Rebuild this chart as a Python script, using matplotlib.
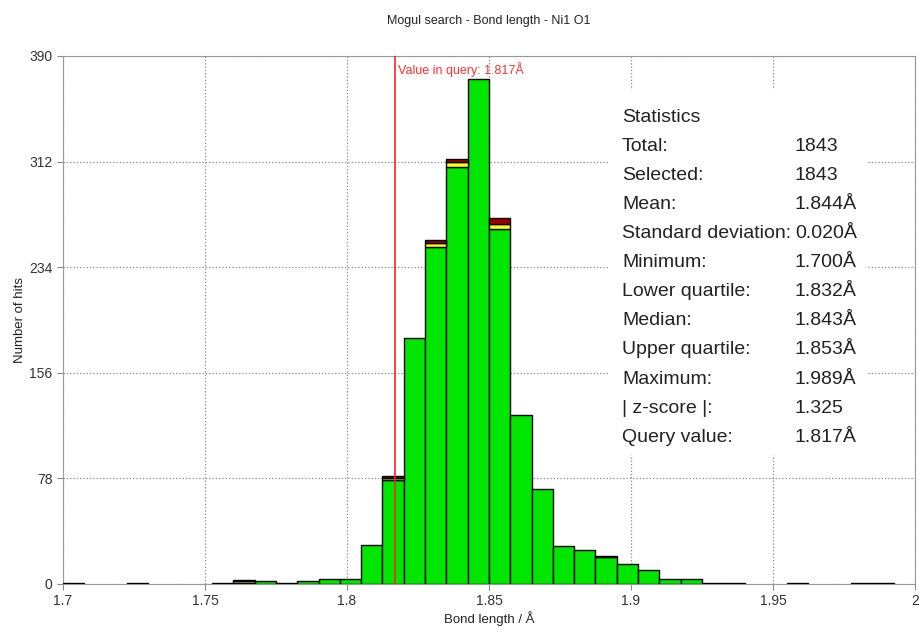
import matplotlib
matplotlib.use("Agg")
import matplotlib.pyplot as plt
import numpy as np
from matplotlib.patches import Rectangle

plt.rcParams['font.family'] = ['Liberation Sans', 'DejaVu Sans']

# Histogram bins (bond length, Å)
bin_start = 1.7
bin_width = 0.0075
n_bins = 40
# counts per bin by category (green = main, yellow, dark red caps)
green = [1, 0, 0, 1, 0, 0, 0, 1, 1, 2, 0, 2, 4, 4, 29, 77, 182, 249, 308, 373,
         262, 125, 70, 28, 25, 20, 15, 10, 4, 4, 1, 1, 0, 0, 1, 0, 0, 1, 1, 0]
yellow = [0]*40
darkred = [0]*40
yellow[8] = 1; darkred[8] = 1
darkred[10] = 1
yellow[15] = 1; darkred[15] = 2
yellow[17] = 3; darkred[17] = 2
yellow[18] = 4; darkred[18] = 2
yellow[20] = 4; darkred[20] = 4
darkred[25] = 1

query_value = 1.817
title = "Mogul search - Bond length - Ni1 O1"
xlabel = "Bond length / Å"
ylabel = "Number of hits"
yticks = [0, 78, 156, 234, 312, 390]
xticks = [1.7, 1.75, 1.8, 1.85, 1.9, 1.95, 2.0]
xticklabels = ["1.7", "1.75", "1.8", "1.85", "1.9", "1.95", "2"]
stats_labels = ["Total:", "Selected:", "Mean:", "Standard deviation:", "Minimum:",
                "Lower quartile:", "Median:", "Upper quartile:", "Maximum:",
                "| z-score |:", "Query value:"]
stats_values = ["1843", "1843", "1.844Å", "0.020Å", "1.700Å", "1.832Å", "1.843Å",
                "1.853Å", "1.989Å", "1.325", "1.817Å"]

fig = plt.figure(figsize=(9.2, 6.31), dpi=100)
ax = fig.add_axes([0.0685, 0.0745, 0.926, 0.8368])

lefts = bin_start + bin_width*np.arange(n_bins)
g = np.array(green); yl = np.array(yellow); dr = np.array(darkred)
kw = dict(width=bin_width, align='edge', edgecolor='black', linewidth=1.0, zorder=3)
mask = g > 0
ax.bar(lefts[mask], g[mask], color='#00e600', **kw)
m2 = yl > 0
ax.bar(lefts[m2], yl[m2], bottom=g[m2], color='#ffff00', **kw)
m3 = dr > 0
ax.bar(lefts[m3], dr[m3], bottom=(g+yl)[m3], color='#a00000', **kw)

ax.set_xlim(1.7, 2.0)
ax.set_ylim(0, 390)
ax.set_xticks(xticks)
ax.set_xticklabels(xticklabels)
ax.set_yticks(yticks)
ax.tick_params(labelsize=10, colors='#333333', length=4, color='#888888')
ax.set_axisbelow(True)
ax.grid(True, linestyle=':', color='#888888', linewidth=0.9)
for s in ax.spines.values():
    s.set_color('#999999')

ax.axvline(query_value, color='#ff2020', linewidth=1.2, zorder=4)
ax.annotate("Value in query: 1.817Å", xy=(query_value, 1), xycoords=('data', 'axes fraction'),
            xytext=(2, -10), textcoords='offset points', color='#ff3030', fontsize=9,
            ha='left', va='center')

# white background behind statistics
ax.add_patch(Rectangle((0.640, 0.245), 0.305, 0.69, transform=ax.transAxes,
                       facecolor='white', edgecolor='none', zorder=2))
y0 = 0.884
dy = 0.0551
fs = 14
ax.text(0.656, y0, "Statistics", transform=ax.transAxes, fontsize=fs, va='center', zorder=5, color='#222222')
for i, (lab, val) in enumerate(zip(stats_labels, stats_values)):
    yy = y0 - dy*(i+1)
    ax.text(0.656, yy, lab, transform=ax.transAxes, fontsize=fs, va='center', zorder=5, color='#222222')
    ax.text(0.859, yy, val, transform=ax.transAxes, fontsize=fs, va='center', zorder=5, color='#222222')

ax.set_title(title, fontsize=9, pad=23, color='#222222')
ax.set_xlabel(xlabel, fontsize=9.5, labelpad=2, color='#222222')
ax.set_ylabel(ylabel, fontsize=9.5, labelpad=2, color='#222222')

fig.savefig("out.png", dpi=100)
